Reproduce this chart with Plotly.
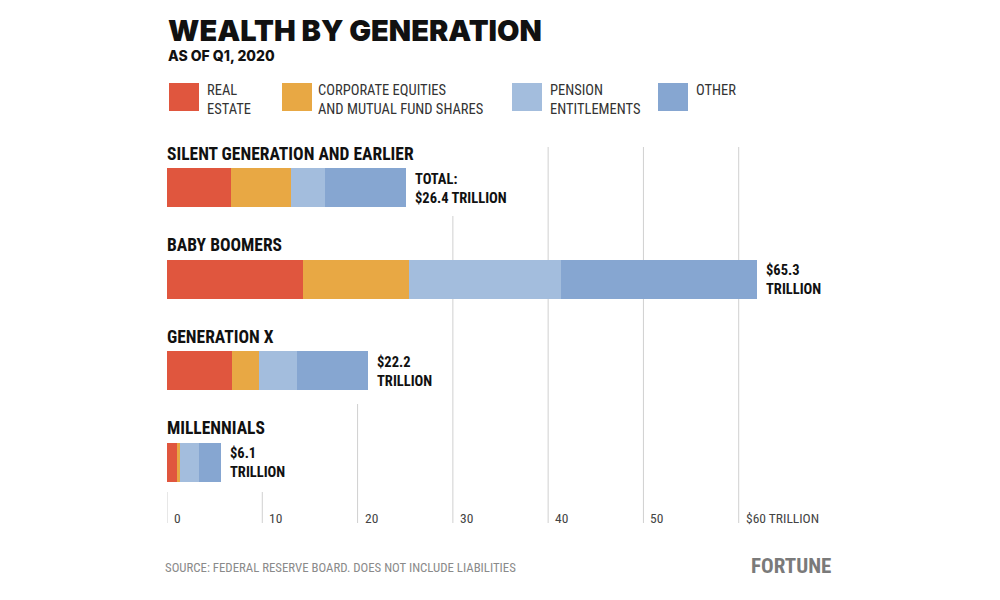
import plotly.graph_objects as go

generations = ["SILENT GENERATION AND EARLIER", "BABY BOOMERS", "GENERATION X", "MILLENNIALS"]
totals_text = ["TOTAL:<br>$26.4 TRILLION", "$65.3<br>TRILLION", "$22.2<br>TRILLION", "$6.1<br>TRILLION"]

# segment values (trillions)
real_estate = [6.7, 14.3, 6.8, 1.0]
equities = [6.3, 11.1, 2.9, 0.4]
pension = [3.6, 15.9, 3.9, 2.0]
other = [8.5, 20.6, 7.5, 2.3]

series_names = ["REAL<br>ESTATE", "CORPORATE EQUITIES<br>AND MUTUAL FUND SHARES", "PENSION<br>ENTITLEMENTS", "OTHER"]
colors = ["#E0563E", "#E8A844", "#A3BDDD", "#86A6D1"]

tick_vals = [0, 10, 20, 30, 40, 50, 60]
tick_text = ["0", "10", "20", "30", "40", "50", "$60 TRILLION"]
grid_top = [492, 492, 404, 216, 147, 147, 147]  # px where each gridline starts

COND = "Roboto Condensed"
OFF = 8  # page body margin
LEFT, TOP, BOTTOM, PW = 167, 142, 508, 667


def px(p):
    return (p - LEFT) / PW


def py(p):
    return (BOTTOM - p) / (BOTTOM - TOP)


def text(x, y, s, font, xanchor="left", yanchor="middle", xref="paper", yref="paper", **kw):
    return dict(x=x, y=y, xref=xref, yref=yref, text=s, showarrow=False, align="left",
                xanchor=xanchor, yanchor=yanchor, font=font, borderpad=0, **kw)


fig = go.Figure()
for name, vals, c in zip(series_names, [real_estate, equities, pension, other], colors):
    fig.add_trace(go.Bar(
        y=list(range(len(generations))), x=vals, orientation="h", name=name,
        marker=dict(color=c, line=dict(width=0)), width=0.43, showlegend=False,
    ))

shapes = []
for v, top in zip(tick_vals, grid_top):
    shapes.append(dict(type="line", xref="x", yref="paper", x0=v, x1=v,
                       y0=py(523), y1=py(top), line=dict(color="#d0d0d0", width=1), layer="below"))

annotations = []
tick_font = dict(family=COND, size=13.5, color="#444")
for v, t in zip(tick_vals, tick_text):
    annotations.append(text(v, py(518), t, tick_font, xref="x", xshift=6))

label_font = dict(family=COND, size=17.5, color="#111", weight="bold")
total_font = dict(family=COND, size=14.5, color="#111", weight="bold")
for i, g in enumerate(generations):
    annotations.append(text(0, i, g, label_font, xref="x", yref="y", yshift=34, xshift=-1))
    total = real_estate[i] + equities[i] + pension[i] + other[i]
    annotations.append(text(total, i, totals_text[i], total_font, xref="x", yref="y",
                            xshift=8, yshift=-1))

# legend drawn by hand
legend_x = [169, 282, 512, 658]
text_x = [206, 317, 549, 695]
legend_font = dict(family=COND, size=14.5, color="#333")
for name, c, lx, tx in zip(series_names, colors, legend_x, text_x):
    shapes.append(dict(type="rect", xref="paper", yref="paper",
                       x0=px(lx), x1=px(lx + 30), y0=py(111), y1=py(83),
                       fillcolor=c, line=dict(width=0)))
    annotations.append(text(px(tx), py(81), name, legend_font, yanchor="top"))

annotations += [
    text(px(167), py(30), "WEALTH BY GENERATION", dict(family="Inter", size=29, color="#111", weight=900)),
    text(px(167), py(55), "AS OF Q1, 2020", dict(family="Inter", size=14, color="#111", weight=800)),
    text(px(164), py(567), "SOURCE: FEDERAL RESERVE BOARD. DOES NOT INCLUDE LIABILITIES",
         dict(family=COND, size=12.8, color="#8a8a8a")),
    text(px(832), py(566), "FORTUNE", dict(family=COND, size=21, color="#7a7a7a", weight="bold"),
         xanchor="right"),
]

fig.update_layout(
    width=1000, height=600,
    margin=dict(l=LEFT - OFF, r=1000 - (LEFT - OFF) - PW, t=TOP - OFF, b=600 - (BOTTOM - OFF)),
    paper_bgcolor="white", plot_bgcolor="white",
    barmode="stack", bargap=0,
    xaxis=dict(range=[0, 70], showgrid=False, zeroline=False, showticklabels=False, showline=False),
    yaxis=dict(range=[3.5, -0.5], showgrid=False, zeroline=False, showticklabels=False, showline=False),
    shapes=shapes, annotations=annotations,
)

fig.write_html("out.html")
